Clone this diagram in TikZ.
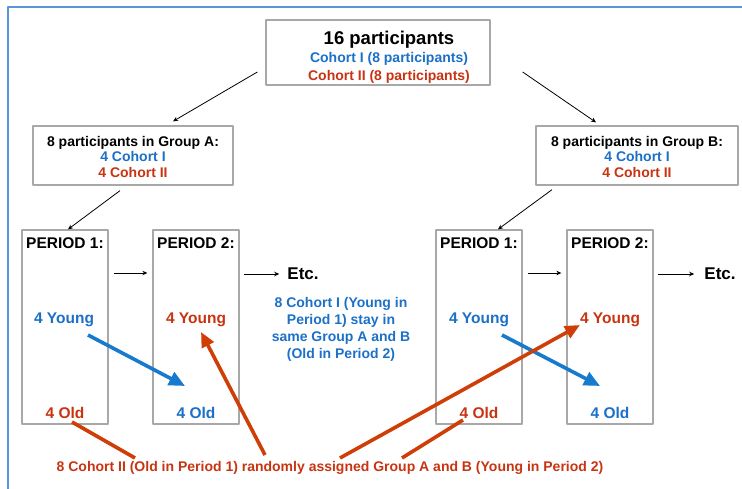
\documentclass[tikz,border=0pt]{standalone}
\usepackage{fontspec}
\setmainfont{Liberation Sans}
\usetikzlibrary{arrows.meta,calc}
\definecolor{cohortone}{RGB}{28,112,200}
\definecolor{cohorttwo}{RGB}{200,52,18}
\definecolor{arrred}{RGB}{208,62,8}
\definecolor{arrblue}{RGB}{22,122,206}
\definecolor{boxgray}{RGB}{168,168,168}
\definecolor{framebl}{RGB}{90,150,215}
\tikzset{
  gbox/.style={draw=boxgray,line width=1.3pt,fill=white,inner sep=0pt},
  txt/.style={inner sep=0pt,font=\fontsize{14}{15.5}\selectfont\bfseries,align=center},
  ptxt/.style={inner sep=0pt,font=\fontsize{15.5}{17}\selectfont\bfseries},
  etctxt/.style={inner sep=0pt,font=\fontsize{17}{19}\selectfont\bfseries},
  thinarr/.style={-{Stealth[length=5pt,width=4.5pt]},line width=0.8pt},
  fatred/.style={draw=arrred,line width=3.6pt},
  fatredtip/.style={fatred,-{Triangle[length=15pt,width=13pt]}},
  fatbluetip/.style={draw=arrblue,line width=3.6pt,-{Triangle[length=16pt,width=14pt]}},
  every picture/.style={line join=round}}
\begin{document}
\begin{tikzpicture}[x=1pt,y=-1pt]
  \useasboundingbox (0,0) rectangle (742,489);
  \draw[framebl,line width=1.2pt] (742,7) -- (8,7) -- (8,489);
  % top and group boxes
  \node[gbox,minimum width=224,minimum height=65] (top) at (378,52.5) {};
  \node[txt,font=\fontsize{14}{18}\selectfont\bfseries] (toptxt) at (389,57)
    {{\fontsize{18.5}{20}\selectfont 16 participants}\\
     \textcolor{cohortone}{Cohort I (8 participants)}\\
     \textcolor{cohorttwo}{Cohort II (8 participants)}};
  \node[gbox,minimum width=200,minimum height=59] (ga) at (133,155.5) {};
  \node[txt] (gatxt) at (133,156.5) {8 participants in Group A:\\
    \textcolor{cohortone}{4 Cohort I}\\ \textcolor{cohorttwo}{4 Cohort II}};
  \node[gbox,minimum width=202,minimum height=59] (gb) at (637,155.5) {};
  \node[txt] (gbtxt) at (637,156.5) {8 participants in Group B:\\
    \textcolor{cohortone}{4 Cohort I}\\ \textcolor{cohorttwo}{4 Cohort II}};
  % period boxes
  \node[gbox,minimum width=86,minimum height=194] (pa1) at (65,327) {};
  \node[gbox,minimum width=86,minimum height=194] (pa2) at (196,327) {};
  \node[gbox,minimum width=86,minimum height=194] (pb1) at (479,327) {};
  \node[gbox,minimum width=86,minimum height=194] (pb2) at (610,327) {};
  \node[ptxt] (ha1) at (65,243) {PERIOD 1:};
  \node[ptxt] (ha2) at (196,243) {PERIOD 2:};
  \node[ptxt] (hb1) at (479,243) {PERIOD 1:};
  \node[ptxt] (hb2) at (610,243) {PERIOD 2:};
  \node[ptxt,cohortone] (ya1) at (64,320) {4 Young};
  \node[ptxt,cohorttwo] (ya2) at (196,320) {4 Young};
  \node[ptxt,cohortone] (yb1) at (479,320) {4 Young};
  \node[ptxt,cohorttwo] (yb2) at (610,320) {4 Young};
  \node[ptxt,cohorttwo] (oa1) at (65,413) {4 Old};
  \node[ptxt,cohortone] (oa2) at (196,413) {4 Old};
  \node[ptxt,cohorttwo] (ob1) at (479,413) {4 Old};
  \node[ptxt,cohortone] (ob2) at (610,413) {4 Old};
  \node[etctxt] (etca) at (303,274) {Etc.};
  \node[etctxt] (etcb) at (720,274) {Etc.};
  \node[txt,font=\fontsize{14}{17}\selectfont\bfseries,cohortone] (note1) at (341,329)
    {8 Cohort I (Young in\\ Period 1) stay in\\ same Group A and B\\ (Old in Period 2)};
  \node[txt,cohorttwo] (note2) at (330,468)
    {8 Cohort II (Old in Period 1) randomly assigned Group A and B (Young in Period 2)};
  % black arrows
  \draw[thinarr] ([shift={(-8,19.5)}]top.west) -- ([shift={(40,-4)}]ga.north);
  \draw[thinarr] ([shift={(32,19.5)}]top.east) -- ([shift={(-41,-3)}]gb.north);
  \draw[thinarr] ([shift={(-13,5)}]ga.south) -- ([shift={(3,0)}]pa1.north);
  \draw[thinarr] ([shift={(-85,4)}]gb.south) -- ([shift={(19,0)}]pb1.north);
  \draw[thinarr] ([shift={(5,-54)}]pa1.east) -- ([shift={(-5,-54)}]pa2.west);
  \draw[thinarr] ([shift={(5,-54)}]pb1.east) -- ([shift={(-5,-54)}]pb2.west);
  \draw[thinarr] ([shift={(4,-53)}]pa2.east) -- ([xshift=-8pt]etca.west);
  \draw[thinarr] ([shift={(4,-53)}]pb2.east) -- ([xshift=-10pt]etcb.west);
  % cohort arrows
  \draw[fatbluetip] ([shift={(24,15)}]ya1.center) -- ([shift={(-11,-27)}]oa2.center);
  \draw[fatbluetip] ([shift={(23,15)}]yb1.center) -- ([shift={(-10,-27)}]ob2.center);
  \draw[fatred] ([shift={(7,9)}]oa1.center) -- ([shift={(-195,-10)}]note2.center);
  \draw[fatredtip] ([shift={(-65,-13)}]note2.center) -- ([shift={(5,12)}]ya2.center);
  \draw[fatredtip] ([shift={(10,-10)}]note2.center) -- ([shift={(-30,5)}]yb2.center);
  \draw[fatred] ([shift={(72,-10)}]note2.center) -- ([shift={(-16,7)}]ob1.center);
\end{tikzpicture}
\end{document}
